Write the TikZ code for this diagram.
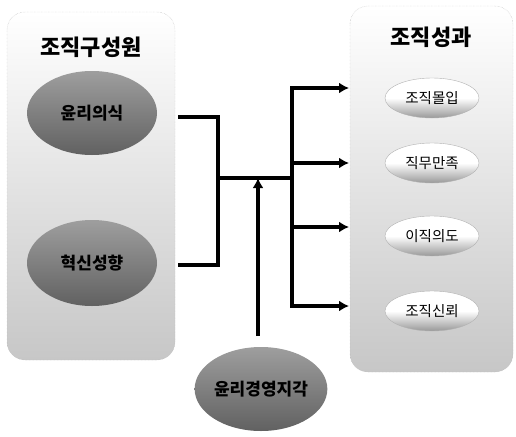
\documentclass[tikz,border=0pt]{standalone}
\usepackage{fontspec}
\setmainfont{Noto Sans CJK KR}
\usetikzlibrary{arrows.meta,shapes.geometric}
\begin{document}
\begin{tikzpicture}[x=1pt,y=-1pt,
  panel/.style={draw=gray!60, densely dotted, rounded corners=18pt, top color=white, bottom color=black!22},
  darkell/.style={ellipse, draw=none, inner sep=0pt, top color=black!38, bottom color=black!62, font=\bfseries\fontsize{17}{17}\selectfont, text=black},
  lightell/.style={ellipse, draw=gray!60, inner sep=0pt, top color=white, bottom color=black!40, middle color=white, font=\fontsize{14.5}{14.5}\selectfont},
  title/.style={font=\bfseries\fontsize{22}{22}\selectfont},
  link/.style={line width=3.6pt, line cap=rect},
  arr/.style={line width=3.6pt, -{Latex[length=10pt,width=11pt]}}
]
\useasboundingbox (0,0) rectangle (516,436);
% panels
\draw[panel] (7,12) rectangle (175,360);
\draw[panel] (350,6) rectangle (513,372);
\node[title] (t1) at (91,47) {조직구성원};
\node[title] (t2) at (431,37) {조직성과};
% left ellipses
\node[darkell, minimum width=130pt, minimum height=84pt] (e1) at (92,113) {윤리의식};
\node[darkell, minimum width=130pt, minimum height=86pt] (e2) at (92,263) {혁신성향};
\node[darkell, minimum width=122pt, minimum height=84pt] (e3) at (261,389) {윤리경영지각};
% right ellipses
\node[lightell, minimum width=94pt, minimum height=40pt] (r1) at (432,98) {조직몰입};
\node[lightell, minimum width=94pt, minimum height=40pt] (r2) at (432,163) {직무만족};
\node[lightell, minimum width=94pt, minimum height=40pt] (r3) at (432,236) {이직의도};
\node[lightell, minimum width=94pt, minimum height=40pt] (r4) at (432,311) {조직신뢰};
% connectors
\coordinate (a1) at (178,117);
\coordinate (a2) at (178,265);
\coordinate (b1) at (218,117);
\coordinate (b2) at (218,265);
\coordinate (m) at (218,178);
\coordinate (j) at (292,178);
\coordinate (top) at (292,88);
\coordinate (bot) at (292,306);
\coordinate (h2) at (292,163);
\coordinate (h3) at (292,227);
\coordinate (t1e) at (349,88);
\coordinate (t2e) at (349,163);
\coordinate (t3e) at (349,227);
\coordinate (t4e) at (349,306);
\coordinate (up) at (258,178);
\coordinate (upstart) at (258,336);
\draw[line width=3.6pt, line join=miter] (a1) -- (b1) -- (b2) -- (a2);
\draw[link] (m) -- (j);
\draw[link] (top) -- (bot);
\draw[arr] (top) -- (t1e);
\draw[arr] (h2) -- (t2e);
\draw[arr] (h3) -- (t3e);
\draw[arr] (bot) -- (t4e);
\draw[arr] (upstart) -- (up);
\end{tikzpicture}
\end{document}
